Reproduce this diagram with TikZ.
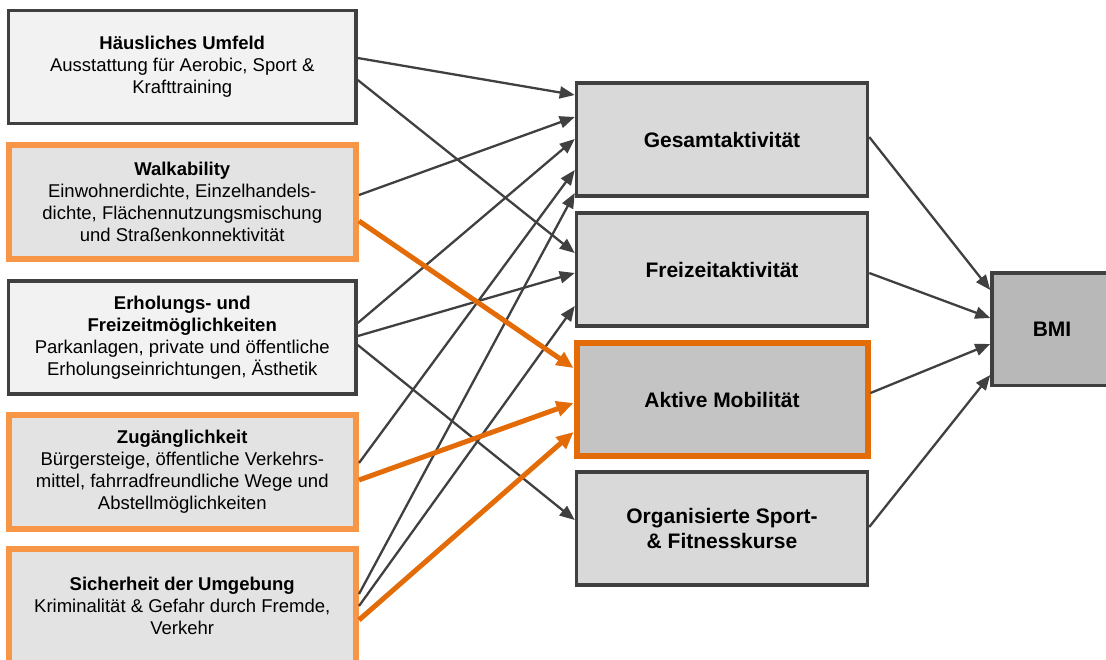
\documentclass[tikz,border=0pt]{standalone}
\usepackage{fontspec}
\setmainfont{Liberation Sans}
\usetikzlibrary{arrows.meta,calc}
\definecolor{dgray}{HTML}{404040}
\definecolor{lorange}{HTML}{F79646}
\definecolor{dorange}{HTML}{E36C09}
\definecolor{fillA}{HTML}{F2F2F2}
\definecolor{fillB}{HTML}{E3E3E3}
\definecolor{fillM}{HTML}{D9D9D9}
\definecolor{fillAk}{HTML}{C4C4C4}
\definecolor{fillBMI}{HTML}{B8B8B8}
\tikzset{
  leftbox/.style={rectangle, draw=dgray, fill=fillA, line width=3.5pt, minimum width=347.5pt, minimum height=113pt, inner sep=0pt, align=center, font=\fontsize{18.5}{22}\selectfont},
  leftor/.style={leftbox, draw=lorange, fill=fillB, line width=6pt, minimum height=114pt},
  midbox/.style={rectangle, draw=dgray, fill=fillM, line width=3.5pt, minimum width=291pt, minimum height=113pt, inner sep=0pt, align=center, font=\fontsize{21}{25}\selectfont\bfseries},
  midor/.style={midbox, draw=dorange, fill=fillAk, line width=6pt},
  bmibox/.style={midbox, fill=fillBMI, minimum width=120pt, minimum height=112.5pt},
  garr/.style={draw=dgray, line width=2.3pt, -{Triangle[length=15pt,width=12pt]}},
  oarr/.style={draw=dorange, line width=5pt, -{Triangle[length=17pt,width=15pt]}}
}
\begin{document}
\begin{tikzpicture}[x=1pt,y=-1pt]
\useasboundingbox (0,0) rectangle (1106,659);
\clip (0,0) rectangle (1106,659);
% left column
\node[leftbox] (h) at (182.25,67) {\textbf{Häusliches Umfeld}\\Ausstattung für Aerobic, Sport \&\\Krafttraining};
\node[leftor] (w) at (182.25,202) {\textbf{Walkability}\\Einwohnerdichte, Einzelhandels-\\dichte, Flächennutzungsmischung\\und Straßenkonnektivität};
\node[leftbox] (e) at (182.25,337.5) {\textbf{Erholungs- und}\\\textbf{Freizeitmöglichkeiten}\\Parkanlagen, private und öffentliche\\Erholungseinrichtungen, Ästhetik};
\node[leftor] (z) at (182.25,471.75) {\textbf{Zugänglichkeit}\\Bürgersteige, öffentliche Verkehrs-\\mittel, fahrradfreundliche Wege und\\Abstellmöglichkeiten};
\node[leftor] (s) at (182.25,605.5) {\textbf{Sicherheit der Umgebung}\\Kriminalität \& Gefahr durch Fremde,\\Verkehr};
% middle column
\node[midbox] (g) at (722,139.7) {Gesamtaktivität};
\node[midbox] (f) at (722,269.7) {Freizeitaktivität};
\node[midor] (a) at (722,399.7) {Aktive Mobilität};
\node[midbox] (o) at (722,528.7) {Organisierte Sport-\\\& Fitnesskurse};
% BMI
\node[bmibox] (b) at (1052,329) {BMI};
% gray connectors
\draw[garr] (h.east |- 0,58) -- (g.west |- 0,95);
\draw[garr] (h.east |- 0,80) -- (f.west |- 0,253);
\draw[garr] (w.east |- 0,195) -- (g.west |- 0,117);
\draw[garr] (e.east |- 0,323) -- (g.west |- 0,139);
\draw[garr] (e.east |- 0,336) -- (f.west |- 0,273);
\draw[garr] (e.east |- 0,345) -- (o.west |- 0,520);
\draw[garr] (z.east |- 0,463) -- (g.west |- 0,170);
\draw[garr] (s.east |- 0,594) -- (g.west |- 0,193);
\draw[garr] (s.east |- 0,606) -- (f.west |- 0,306);
% orange connectors
\draw[oarr] (w.east |- 0,221) -- (a.west |- 0,368);
\draw[oarr] (z.east |- 0,480) -- (a.west |- 0,403);
\draw[oarr] (s.east |- 0,620) -- (a.west |- 0,432);
% to BMI
\draw[garr] (g.east |- 0,137) -- (b.west |- 0,290);
\draw[garr] (f.east |- 0,273) -- (b.west |- 0,318);
\draw[garr] (a.east |- 0,393) -- (b.west |- 0,344);
\draw[garr] (o.east |- 0,527) -- (b.west |- 0,375);
\end{tikzpicture}
\end{document}
